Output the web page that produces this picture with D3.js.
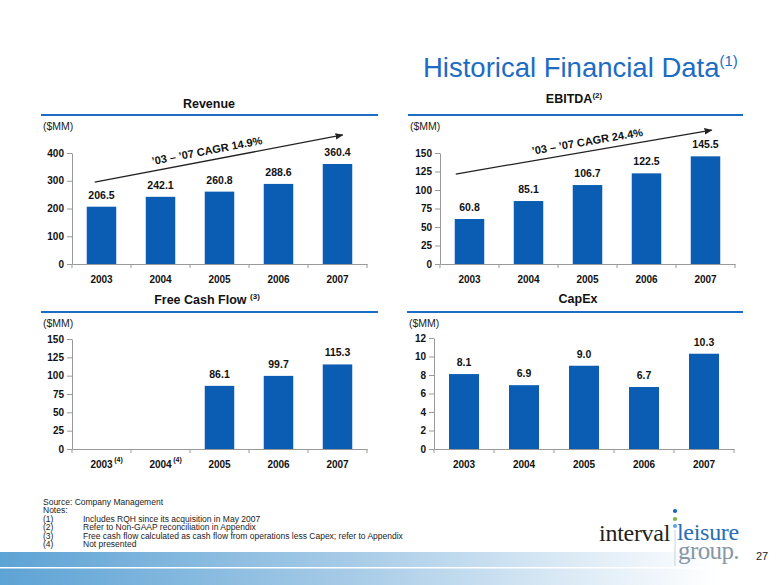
<!DOCTYPE html>
<html><head><meta charset="utf-8">
<script src="https://cdn.jsdelivr.net/npm/d3@7"></script>
<style>
html,body{margin:0;padding:0;background:#fff;}
svg{display:block;font-family:"Liberation Sans",Arial,sans-serif;}
</style></head>
<body>
<svg id="c" width="780" height="585"></svg>
<script>
// ---- data ----
const years = ["2003","2004","2005","2006","2007"];
const revenue = [206.5, 242.1, 260.8, 288.6, 360.4];
const ebitda = [60.8, 85.1, 106.7, 122.5, 145.5];
const fcf = [null, null, 86.1, 99.7, 115.3];
const capex = [8.1, 6.9, 9.0, 6.7, 10.3];
const revenueTicks = [0, 100, 200, 300, 400];
const ebitdaTicks = [0, 25, 50, 75, 100, 125, 150];
const fcfTicks = [0, 25, 50, 75, 100, 125, 150];
const capexTicks = [0, 2, 4, 6, 8, 10, 12];
const fcfYearNotes = ["(4)", "(4)", "", "", ""];
const notes = [
  ["(1)", "Includes RQH since its acquisition in May 2007"],
  ["(2)", "Refer to Non-GAAP reconciliation in Appendix"],
  ["(3)", "Free cash flow calculated as cash flow from operations less Capex; refer to Appendix"],
  ["(4)", "Not presented"]
];

const BAR = "#0b5db3", BLUE = "#1d6cc3";
const svg = d3.select("#c");

// bottom gradient band
const defs = svg.append("defs");
const g1 = defs.append("linearGradient").attr("id","band").attr("x1","0").attr("x2","1");
g1.append("stop").attr("offset","0").attr("stop-color","#5da3d5");
g1.append("stop").attr("offset","0.45").attr("stop-color","#a7cbe7");
g1.append("stop").attr("offset","0.92").attr("stop-color","#ffffff");
svg.append("rect").attr("x",0).attr("y",552).attr("width",780).attr("height",33).attr("fill","url(#band)");
svg.append("rect").attr("x",0).attr("y",567).attr("width",780).attr("height",1.5).attr("fill","#fff");

defs.append("marker").attr("id","arr").attr("viewBox","0 0 10 10").attr("refX",9).attr("refY",5)
  .attr("markerWidth",8).attr("markerHeight",8).attr("orient","auto").attr("markerUnits","userSpaceOnUse")
  .append("path").attr("d","M0,1 L10,5 L0,9 Z").attr("fill","#222");

// title
const t = svg.append("text").attr("x",423).attr("y",77).attr("fill",BLUE).attr("font-size",27.5);
t.append("tspan").text("Historical Financial Data");
t.append("tspan").attr("font-size",15).attr("dy",-11).text("(1)");

function panel(o){
  const g = svg.append("g");
  const tt = g.append("text").attr("x",o.titleX).attr("y",o.titleY).attr("text-anchor","middle")
    .attr("font-weight","bold").attr("font-size",12.5).attr("fill","#111");
  tt.append("tspan").text(o.title);
  if (o.titleSup) tt.append("tspan").attr("font-size",8).attr("dy",-5).text(o.titleSup);
  g.append("line").attr("x1",o.lineX[0]).attr("x2",o.lineX[1]).attr("y1",o.lineY).attr("y2",o.lineY)
    .attr("stroke",BLUE).attr("stroke-width",2);
  g.append("text").attr("x",o.unitX).attr("y",o.unitY).attr("font-size",10.5).attr("fill","#222").text("($MM)");

  const x = d3.scaleBand().domain(years).range(o.xr).paddingInner(0.5).paddingOuter(0.25);
  const y = d3.scaleLinear().domain([0, d3.max(o.ticks)]).range(o.yr);

  const ya = g.append("g").attr("transform",`translate(${o.xr[0]},0)`)
    .call(d3.axisLeft(y).tickValues(o.ticks).tickSize(5).tickSizeOuter(0).tickFormat(d3.format("d")));
  ya.select(".domain").attr("stroke","#999");
  ya.selectAll(".tick line").attr("stroke","#999");
  ya.selectAll(".tick text").attr("font-size",10).attr("font-weight","bold").attr("fill","#111")
    .attr("font-family","Liberation Sans, Arial, sans-serif").attr("x",-8);

  const xa = g.append("g").attr("transform",`translate(0,${o.yr[0]})`)
    .call(d3.axisBottom(x).tickSize(0).tickPadding(12));
  xa.select(".domain").attr("stroke","#999");
  xa.selectAll(".tick text").attr("font-size",10).attr("font-weight","bold").attr("fill","#111")
    .attr("font-family","Liberation Sans, Arial, sans-serif");
  const bounds = years.map(d => x(d) - x.step()*x.paddingInner()/2).concat([o.xr[1]]);
  xa.selectAll("line.bt").data(bounds).join("line").attr("class","bt")
    .attr("x1",d=>d).attr("x2",d=>d).attr("y1",0).attr("y2",4).attr("stroke","#999");
  if (o.yearNotes) {
    xa.selectAll(".tick").each(function(d,i){
      if (o.yearNotes[i]) d3.select(this).append("text").attr("x",17).attr("y",13)
        .attr("font-size",7).attr("font-weight","bold").attr("fill","#111")
        .attr("font-family","Liberation Sans, Arial, sans-serif").text(o.yearNotes[i]);
    });
  }

  const data = years.map((yr,i)=>({yr, v:o.values[i]})).filter(d=>d.v!=null);
  g.selectAll("rect.bar").data(data).join("rect").attr("class","bar")
    .attr("x",d=>x(d.yr)).attr("width",x.bandwidth())
    .attr("y",d=>y(d.v)).attr("height",d=>y(0)-y(d.v)).attr("fill",BAR);
  g.selectAll("text.val").data(data).join("text").attr("class","val")
    .attr("x",d=>x(d.yr)+x.bandwidth()/2).attr("y",d=>y(d.v)-8).attr("text-anchor","middle")
    .attr("font-size",10.5).attr("font-weight","bold").attr("fill","#111")
    .text(d=>d3.format(".1f")(d.v));

  if (o.arrow){
    const a = o.arrow;
    const x1 = x(a.from[0]) + a.from[1], y1 = y(a.from[2]);
    const x2 = x(a.to[0]) + a.to[1], y2 = y(a.to[2]);
    g.append("line").attr("x1",x1).attr("y1",y1).attr("x2",x2).attr("y2",y2)
      .attr("stroke","#222").attr("stroke-width",1.3).attr("marker-end","url(#arr)");
    const ang = Math.atan2(y2-y1, x2-x1)*180/Math.PI;
    const mx = x1 + (x2-x1)*a.labelT, my = y1 + (y2-y1)*a.labelT;
    g.append("text").attr("transform",`translate(${mx},${my}) rotate(${ang}) translate(0,-6)`)
      .attr("text-anchor","middle").attr("font-size",11).attr("font-weight","bold").attr("fill","#111")
      .text(a.label);
  }
}

panel({title:"Revenue", titleX:209, titleY:108, lineY:115, lineX:[41,378], unitX:43, unitY:130,
  xr:[72,367], yr:[264,153], ticks:revenueTicks, values:revenue,
  arrow:{from:["2003",8,295], to:["2007",20,465], label:"\u201903 \u2013 \u201907 CAGR 14.9%", labelT:0.46}});
panel({title:"EBITDA", titleSup:"(2)", titleX:574, titleY:103, lineY:115, lineX:[408,743], unitX:410, unitY:130,
  xr:[440,735], yr:[264,153], ticks:ebitdaTicks, values:ebitda,
  arrow:{from:["2003",1,121.6], to:["2007",21,181], label:"\u201903 \u2013 \u201907 CAGR 24.4%", labelT:0.52}});
panel({title:"Free Cash Flow ", titleSup:"(3)", titleX:207, titleY:304, lineY:312, lineX:[41,378], unitX:43, unitY:327,
  xr:[72,367], yr:[449,339], ticks:fcfTicks, values:fcf, yearNotes:fcfYearNotes});
panel({title:"CapEx", titleX:578, titleY:303, lineY:312, lineX:[407,743], unitX:409, unitY:327,
  xr:[434,734], yr:[449,338], ticks:capexTicks, values:capex});

// footnotes
const fn = svg.append("g").attr("font-size",8.5).attr("fill","#222");
const fy0 = 505, fdy = 8.4;
fn.append("text").attr("x",43).attr("y",fy0).text("Source: Company Management");
fn.append("text").attr("x",43).attr("y",fy0+fdy).text("Notes:");
notes.forEach((n,i)=>{
  fn.append("text").attr("x",43).attr("y",fy0+fdy*(i+2)).text(n[0]);
  fn.append("text").attr("x",83).attr("y",fy0+fdy*(i+2)).text(n[1]);
});

// logo
const lg = svg.append("g").attr("font-family","Liberation Serif, Times New Roman, serif");
lg.append("line").attr("x1",675).attr("x2",675).attr("y1",530).attr("y2",566).attr("stroke","#c9d3dc").attr("stroke-width",1);
[["#1764b8",511],["#7ab648",519],["#5aa9e0",526]].forEach(d=>{
  lg.append("circle").attr("cx",675).attr("cy",d[1]).attr("r",2.1).attr("fill",d[0]);
});
lg.append("text").attr("x",670).attr("y",541).attr("text-anchor","end").attr("font-size",24).attr("fill","#231f20").attr("letter-spacing",-0.3).text("interval");
lg.append("text").attr("x",677).attr("y",540).attr("font-size",24).attr("fill","#2a6db5").attr("letter-spacing",-0.3).text("leisure");
lg.append("text").attr("x",678).attr("y",559).attr("font-size",25).attr("fill","#8797a6").attr("letter-spacing",-0.6).text("group.");
svg.append("text").attr("x",756).attr("y",560).attr("font-size",11).attr("fill","#222").text("27");
</script>
</body></html>
